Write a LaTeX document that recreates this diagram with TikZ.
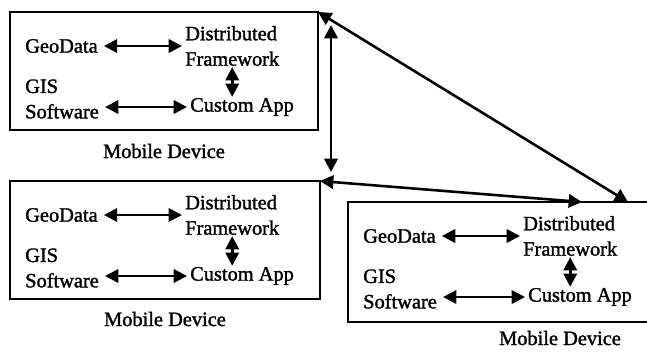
\documentclass[tikz,border=0pt]{standalone}
\usepackage{fontspec}
\setmainfont{Liberation Serif}[FakeBold=1.5]
\usetikzlibrary{arrows.meta,calc}

\begin{document}
\begin{tikzpicture}[
    x=0.03cm, y=-0.03cm,
    txt/.style={font=\fontsize{17.4}{21.7}\selectfont, inner sep=0pt, align=left},
    devbox/.style={draw, line width=1.6pt, anchor=north west, outer sep=0pt, inner sep=0pt},
    arrow/.style={{Triangle[length=4mm,width=4mm]}-{Triangle[length=4mm,width=4mm]}, line width=2.2pt}
]
\useasboundingbox (0,0) rectangle (647,351);
\clip (0,0) rectangle (647,351);

% the three mobile devices
\foreach \n/\x/\y/\w/\h/\d in {1/10/12/308/118/28, 2/10/181/310/118/27, 3/348/202/424/120/23} {
    \node[devbox, minimum width=\w*0.03cm, minimum height=\h*0.03cm] (dev\n) at (\x,\y) {};
    \node[txt, anchor=west] (geo\n) at (\x+15,\y+34) {GeoData};
    \node[txt, anchor=west] (dist\n) at (\x+175,\y+34) {Distributed\\Framework};
    \node[txt, anchor=west] (gis\n) at (\x+15,\y+87) {GIS\\Software};
    \node[txt, anchor=west] (app\n) at (\x+180,\y+95) {Custom App};
    \node[txt, anchor=base] (mob\n) at ($(dev\n.south)+(0,\d)$) {Mobile Device};

    \draw[arrow] (geo\n.east) ++(6,0) -- ($(geo\n.east -| dist\n.west)+(-3,0)$);
    \draw[arrow] ($(app\n.west -| gis\n.east)+(6,0)$) -- ($(app\n.west)+(-3,0)$);
    \draw[arrow] ($(dist\n.south)+(0,1)$) -- ($(dist\n.south |- app\n.north)+(0,-1)$);
}

% links between devices
\coordinate (top1) at ($(dev1.north east)+(13,13)$);
\coordinate (bot2) at ($(dev2.north east)+(11,-9)$);
\coordinate (far3) at ($(dev3.north west)+(280,0)$);
\coordinate (near3) at ($(dev3.north west)+(234,0)$);

\draw[arrow] (top1) -- (bot2);
\draw[arrow] (dev1.north east) -- (far3);
\draw[arrow] (dev2.north east) -- (near3);
\end{tikzpicture}
\end{document}
